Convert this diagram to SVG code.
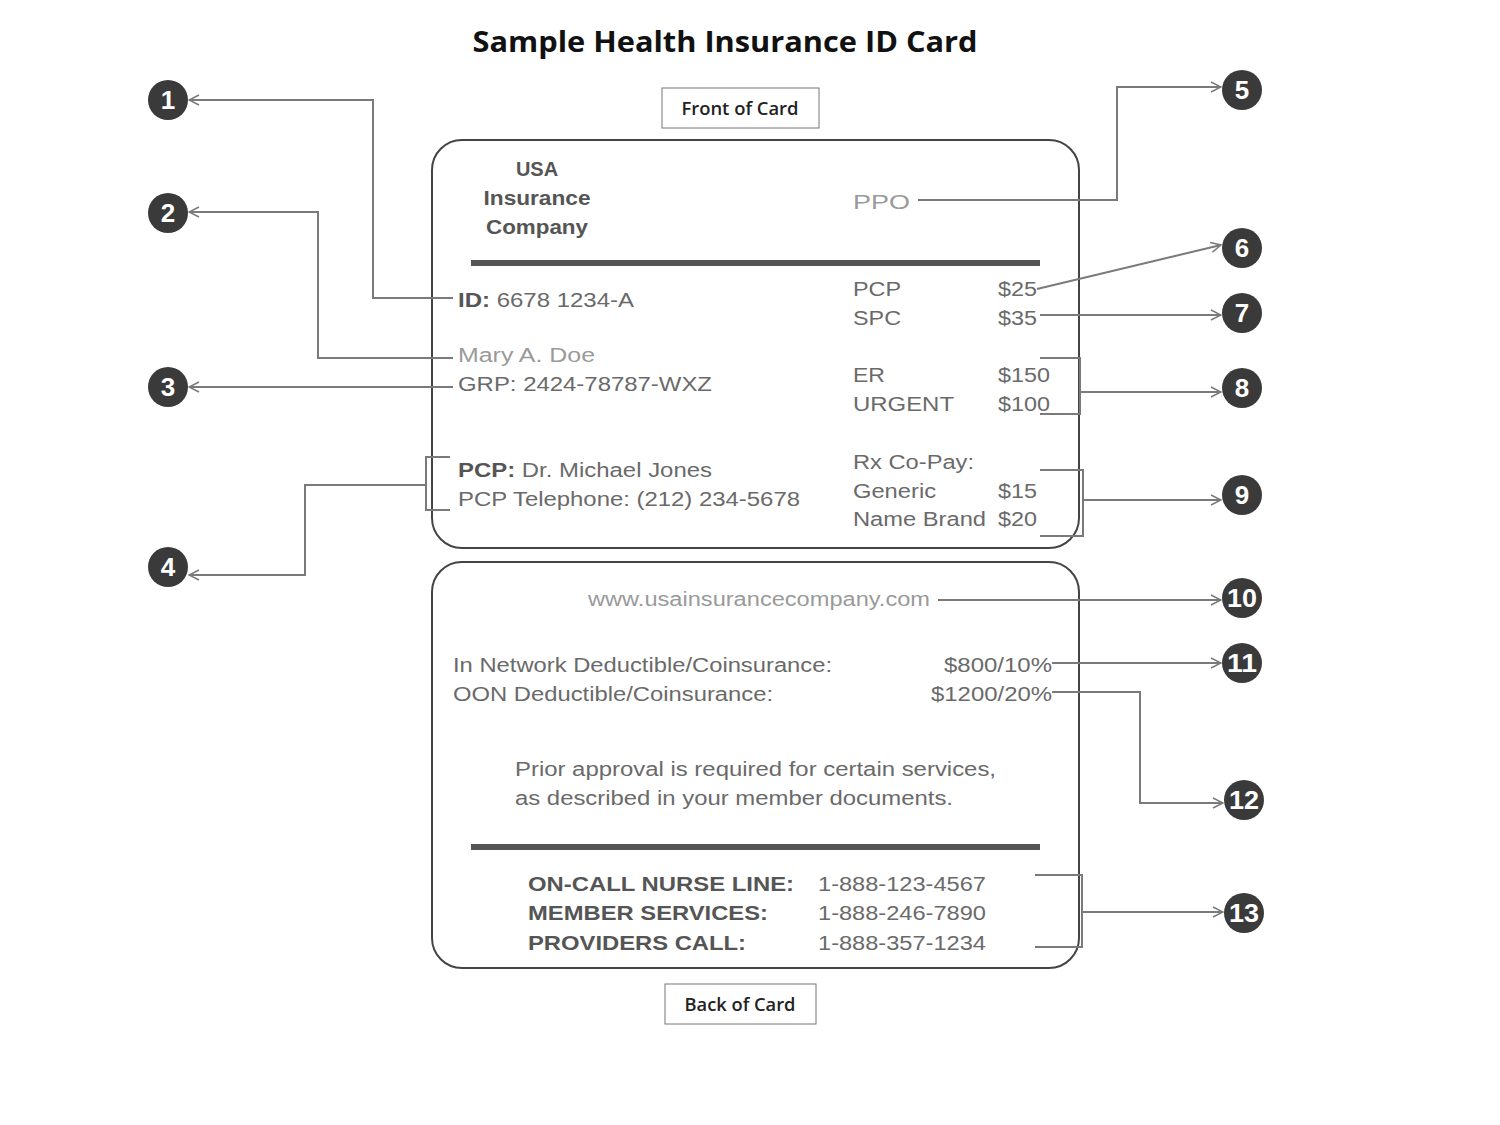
<svg xmlns="http://www.w3.org/2000/svg" width="1500" height="1125" viewBox="0 0 1500 1125">
<style>
.t{font-family:"Liberation Sans",Arial,sans-serif;font-size:20px;fill:#6a6a6a}
.lt{fill:#9a9a9a}
.b{font-weight:bold;fill:#555}
.cal{font-family:"Open Sans","Liberation Sans",sans-serif;font-weight:bold;fill:#111}
.num{font-family:"Liberation Sans",Arial,sans-serif;font-weight:bold;font-size:26px;fill:#fff;text-anchor:middle}
.badge{fill:#3a3a3a}
.card{fill:#fff;stroke:#444;stroke-width:2}
.lbl{fill:#fff;stroke:#777;stroke-width:1}
.con{fill:none;stroke:#7a7a7a;stroke-width:2}
.rule{stroke:#555;stroke-width:6}
</style>
<defs>
<marker id="ar" viewBox="0 0 12 12" refX="11" refY="6" markerWidth="12" markerHeight="12" markerUnits="userSpaceOnUse" orient="auto">
<path d="M1,1 L11,6 L1,11" fill="none" stroke="#7a7a7a" stroke-width="1.5"/>
</marker>
</defs>
<rect width="1500" height="1125" fill="#fff"/>
<text class="cal" x="725" y="52" font-size="29" text-anchor="middle" textLength="505" lengthAdjust="spacingAndGlyphs">Sample Health Insurance ID Card</text>

<g id="front-label">
<rect class="lbl" x="662" y="88" width="157" height="40"/>
<text class="cal" x="740" y="115" font-size="18" font-weight="bold" text-anchor="middle" textLength="117" lengthAdjust="spacingAndGlyphs" style="fill:#222;font-weight:600">Front of Card</text>
</g>
<g id="back-label">
<rect class="lbl" x="665" y="984" width="151" height="40"/>
<text class="cal" x="740" y="1011" font-size="18" text-anchor="middle" textLength="111" lengthAdjust="spacingAndGlyphs" style="fill:#222;font-weight:600">Back of Card</text>
</g>

<g id="front-card">
<rect class="card" x="432" y="140" width="647" height="408" rx="30"/>
<text class="t b" x="537" y="176" text-anchor="middle" font-size="19">USA</text>
<text class="t b" x="537" y="205" text-anchor="middle" font-size="19" textLength="107" lengthAdjust="spacingAndGlyphs">Insurance</text>
<text class="t b" x="537" y="234" text-anchor="middle" font-size="19" textLength="102" lengthAdjust="spacingAndGlyphs">Company</text>
<text class="t lt" x="853" y="209" font-size="26" textLength="57" lengthAdjust="spacingAndGlyphs">PPO</text>
<line class="rule" x1="471" y1="263" x2="1040" y2="263"/>
<text class="t" x="458" y="307" textLength="176" lengthAdjust="spacingAndGlyphs"><tspan class="b">ID:</tspan> 6678 1234-A</text>
<text class="t" x="853" y="296" textLength="48" lengthAdjust="spacingAndGlyphs">PCP</text>
<text class="t" x="998" y="296" textLength="39" lengthAdjust="spacingAndGlyphs">$25</text>
<text class="t" x="853" y="325" textLength="48" lengthAdjust="spacingAndGlyphs">SPC</text>
<text class="t" x="998" y="325" textLength="39" lengthAdjust="spacingAndGlyphs">$35</text>
<text class="t lt" x="458" y="362" textLength="137" lengthAdjust="spacingAndGlyphs">Mary A. Doe</text>
<text class="t" x="458" y="391" textLength="254" lengthAdjust="spacingAndGlyphs">GRP: 2424-78787-WXZ</text>
<text class="t" x="853" y="382" textLength="32" lengthAdjust="spacingAndGlyphs">ER</text>
<text class="t" x="998" y="382" textLength="52" lengthAdjust="spacingAndGlyphs">$150</text>
<text class="t" x="853" y="411" textLength="101" lengthAdjust="spacingAndGlyphs">URGENT</text>
<text class="t" x="998" y="411" textLength="52" lengthAdjust="spacingAndGlyphs">$100</text>
<text class="t" x="458" y="477" textLength="254" lengthAdjust="spacingAndGlyphs"><tspan class="b">PCP:</tspan> Dr. Michael Jones</text>
<text class="t" x="458" y="506" textLength="342" lengthAdjust="spacingAndGlyphs">PCP Telephone: (212) 234-5678</text>
<text class="t" x="853" y="469" textLength="121" lengthAdjust="spacingAndGlyphs">Rx Co-Pay:</text>
<text class="t" x="853" y="498" textLength="83" lengthAdjust="spacingAndGlyphs">Generic</text>
<text class="t" x="998" y="498" textLength="39" lengthAdjust="spacingAndGlyphs">$15</text>
<text class="t" x="853" y="526" textLength="133" lengthAdjust="spacingAndGlyphs">Name Brand</text>
<text class="t" x="998" y="526" textLength="39" lengthAdjust="spacingAndGlyphs">$20</text>
</g>

<g id="back-card">
<rect class="card" x="432" y="562" width="647" height="406" rx="30"/>
<text class="t lt" x="588" y="606" textLength="342" lengthAdjust="spacingAndGlyphs">www.usainsurancecompany.com</text>
<text class="t" x="453" y="672" textLength="379" lengthAdjust="spacingAndGlyphs">In Network Deductible/Coinsurance:</text>
<text class="t" x="944" y="672" textLength="108" lengthAdjust="spacingAndGlyphs">$800/10%</text>
<text class="t" x="453" y="701" textLength="320" lengthAdjust="spacingAndGlyphs">OON Deductible/Coinsurance:</text>
<text class="t" x="931" y="701" textLength="121" lengthAdjust="spacingAndGlyphs">$1200/20%</text>
<text class="t" x="515" y="776" textLength="481" lengthAdjust="spacingAndGlyphs">Prior approval is required for certain services,</text>
<text class="t" x="515" y="805" textLength="438" lengthAdjust="spacingAndGlyphs">as described in your member documents.</text>
<line class="rule" x1="471" y1="847" x2="1040" y2="847"/>
<text class="t b" x="528" y="891" textLength="266" lengthAdjust="spacingAndGlyphs">ON-CALL NURSE LINE:</text>
<text class="t" x="818" y="891" textLength="168" lengthAdjust="spacingAndGlyphs">1-888-123-4567</text>
<text class="t b" x="528" y="920" textLength="240" lengthAdjust="spacingAndGlyphs">MEMBER SERVICES:</text>
<text class="t" x="818" y="920" textLength="168" lengthAdjust="spacingAndGlyphs">1-888-246-7890</text>
<text class="t b" x="528" y="950" textLength="218" lengthAdjust="spacingAndGlyphs">PROVIDERS CALL:</text>
<text class="t" x="818" y="950" textLength="168" lengthAdjust="spacingAndGlyphs">1-888-357-1234</text>
</g>

<g id="connectors">
<path class="con" d="M453,298 H373 V100 H189" marker-end="url(#ar)"/>
<path class="con" d="M453,358 H318 V212 H189" marker-end="url(#ar)"/>
<path class="con" d="M453,387 H189" marker-end="url(#ar)"/>
<path class="con" d="M450,457 H426 V510 H450"/>
<path class="con" d="M426,485 H305 V575 H189" marker-end="url(#ar)"/>
<path class="con" d="M918,200 H1117 V87 H1221" marker-end="url(#ar)"/>
<path class="con" d="M1037,289 L1221,245" marker-end="url(#ar)"/>
<path class="con" d="M1040,315 H1221" marker-end="url(#ar)"/>
<path class="con" d="M1040,358 H1080 V414 H1040"/>
<path class="con" d="M1080,392 H1221" marker-end="url(#ar)"/>
<path class="con" d="M1040,470 H1083 V536 H1040"/>
<path class="con" d="M1083,500 H1221" marker-end="url(#ar)"/>
<path class="con" d="M938,600 H1221" marker-end="url(#ar)"/>
<path class="con" d="M1052,663 H1221" marker-end="url(#ar)"/>
<path class="con" d="M1052,692 H1140 V803 H1223" marker-end="url(#ar)"/>
<path class="con" d="M1035,875 H1082 V947 H1035"/>
<path class="con" d="M1082,912 H1223" marker-end="url(#ar)"/>
</g>

<g id="n1"><circle class="badge" cx="168" cy="100" r="20"/><text class="num" x="168" y="109">1</text></g>
<g id="n2"><circle class="badge" cx="168" cy="213" r="20"/><text class="num" x="168" y="222">2</text></g>
<g id="n3"><circle class="badge" cx="168" cy="387" r="20"/><text class="num" x="168" y="396">3</text></g>
<g id="n4"><circle class="badge" cx="168" cy="567" r="20"/><text class="num" x="168" y="576">4</text></g>
<g id="n5"><circle class="badge" cx="1242" cy="90" r="20"/><text class="num" x="1242" y="99">5</text></g>
<g id="n6"><circle class="badge" cx="1242" cy="248" r="20"/><text class="num" x="1242" y="257">6</text></g>
<g id="n7"><circle class="badge" cx="1242" cy="313" r="20"/><text class="num" x="1242" y="322">7</text></g>
<g id="n8"><circle class="badge" cx="1242" cy="388" r="20"/><text class="num" x="1242" y="397">8</text></g>
<g id="n9"><circle class="badge" cx="1242" cy="495" r="20"/><text class="num" x="1242" y="504">9</text></g>
<g id="n10"><circle class="badge" cx="1242" cy="598" r="20"/><text class="num" x="1242" y="607" textLength="30" lengthAdjust="spacingAndGlyphs">10</text></g>
<g id="n11"><circle class="badge" cx="1242" cy="663" r="20"/><text class="num" x="1242" y="672" textLength="30" lengthAdjust="spacingAndGlyphs">11</text></g>
<g id="n12"><circle class="badge" cx="1244" cy="800" r="20"/><text class="num" x="1244" y="809" textLength="30" lengthAdjust="spacingAndGlyphs">12</text></g>
<g id="n13"><circle class="badge" cx="1244" cy="913" r="20"/><text class="num" x="1244" y="922" textLength="30" lengthAdjust="spacingAndGlyphs">13</text></g>
</svg>
